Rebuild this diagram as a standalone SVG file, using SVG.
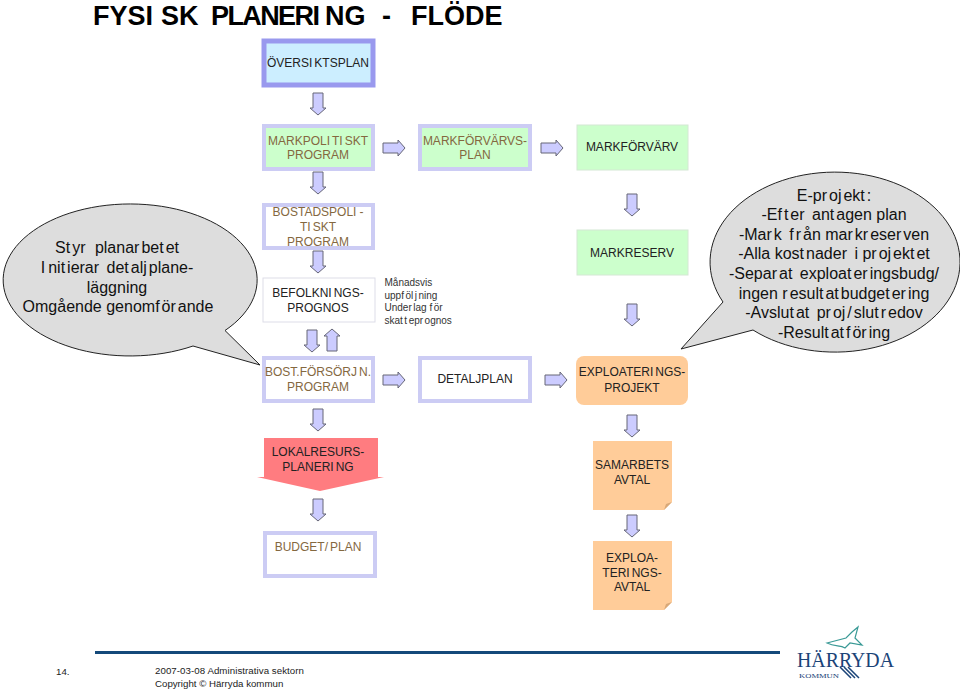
<svg xmlns="http://www.w3.org/2000/svg" width="960" height="689" viewBox="0 0 960 689">
<style>
text{font-family:"Liberation Sans",Arial,sans-serif}
.t{font-size:12px;text-anchor:middle;fill:#222}
.b{font-size:12px;text-anchor:middle;fill:#84683f}
.c{font-size:16px;text-anchor:middle;fill:#111}
.s{font-size:10px;fill:#333}
.f{font-size:9.7px;fill:#222}
.thick{fill:#fff;stroke:#ccccf4;stroke-width:4}
.green{fill:#ccffcc;stroke:#ccccf4;stroke-width:4}
.thin{fill:#ccffcc;stroke:#d4e8d4;stroke-width:1}
.note{fill:#ffcc99}
.fold{fill:#d8a878}
.bubble{fill:#dddddd;stroke:#222;stroke-width:1}
.arrow{fill:#ccccff;stroke:#666677;stroke-width:1}
</style>
<defs>
<path id="down" class="arrow" d="M-5 0H5V15H8L0 22L-8 15H-5Z"/>
<path id="right" class="arrow" d="M0 -5H15V-8L22 0L15 8V5H0Z"/>
<path id="up" class="arrow" d="M-5 22H5V7H8L0 0L-8 7H-5Z"/>
</defs>
<rect width="960" height="689" fill="#fff"/>
<text y="25" font-size="27" font-weight="700" fill="#000"><tspan x="93">FYSI</tspan><tspan x="161">SK</tspan> <tspan x="211" letter-spacing="-1.6">PLANERI</tspan><tspan x="325">NG</tspan> <tspan x="382">-</tspan> <tspan x="411">FLÖDE</tspan></text>

<g id="connectors">
<use href="#down" x="318" y="93"/>
<use href="#down" x="318" y="172"/>
<use href="#down" x="318" y="251"/>
<use href="#down" x="312" y="330"/>
<use href="#up" x="332" y="329"/>
<use href="#down" x="318" y="409"/>
<use href="#down" x="318" y="499"/>
<use href="#down" x="632" y="194"/>
<use href="#down" x="632" y="304"/>
<use href="#down" x="632" y="415"/>
<use href="#down" x="632" y="515"/>
<use href="#right" x="383" y="148"/>
<use href="#right" x="541" y="148"/>
<use href="#right" x="383" y="380"/>
<use href="#right" x="545" y="380"/>
</g>

<g id="oversiktsplan"><rect x="264" y="41" width="109" height="44" fill="#cceeff" stroke="#9999ee" stroke-width="5"/><text class="t" x="318" y="67">ÖVERSI<tspan dx="2">KTSPLAN</tspan></text></g>
<g id="markpolitiskt"><rect class="green" x="264" y="126" width="109" height="43"/><text class="b" x="318" y="145">MARKPOLI<tspan dx="2">TI</tspan><tspan dx="2">SKT</tspan></text><text class="b" x="318" y="159">PROGRAM</text></g>
<g id="markforvarvsplan"><rect class="green" x="420" y="126" width="110" height="43"/><text class="b" x="475" y="145">MARKFÖRVÄRVS-</text><text class="b" x="475" y="159">PLAN</text></g>
<g id="markforvarv"><rect class="thin" x="577" y="125" width="111" height="45"/><text class="t" x="632" y="151">MARKFÖRVÄRV</text></g>
<g id="bostadspolitiskt"><rect class="thick" x="264" y="205" width="109" height="43"/><text class="b" x="318" y="216">BOSTADSPOLI<tspan dx="3">-</tspan></text><text class="b" x="318" y="231">TI<tspan dx="2">SKT</tspan></text><text class="b" x="318" y="246">PROGRAM</text></g>
<g id="befolkningsprognos"><rect x="263" y="278" width="112" height="44" fill="#fff" stroke="#dddde8"/><text class="t" x="318" y="297">BEFOLKNI<tspan dx="2">NGS-</tspan></text><text class="t" x="318" y="312">PROGNOS</text></g>
<g id="manadsvis"><text class="s" x="384.500" y="285.500">Månadsvis</text><text class="s" x="384.500" y="298.500">uppf<tspan dx="1.5">öl</tspan><tspan dx="1.5">j</tspan><tspan dx="1.5">ning</tspan></text><text class="s" x="384.500" y="311">Under<tspan dx="1.5">lag</tspan> f<tspan dx="1.5">ör</tspan></text><text class="s" x="384.500" y="323.500">skat<tspan dx="1.5">t</tspan><tspan dx="1.5">epr</tspan><tspan dx="1.5">ognos</tspan></text></g>
<g id="markreserv"><rect class="thin" x="577" y="230" width="111" height="45"/><text class="t" x="632" y="257">MARKRESERV</text></g>
<g id="bostforsorjn"><rect class="thick" x="264" y="358" width="109" height="43"/><text class="b" x="318" y="376">BOST.FÖRSÖRJ<tspan dx="2">N.</tspan></text><text class="b" x="318" y="391">PROGRAM</text></g>
<g id="detaljplan"><rect class="thick" x="420" y="358" width="110" height="43"/><text class="t" x="475" y="383">DETALJPLAN</text></g>
<g id="exploateringsprojekt"><rect x="576" y="356" width="112" height="49" rx="8" fill="#ffcc99"/><text class="t" x="632" y="376">EXPLOATERI<tspan dx="2">NGS-</tspan></text><text class="t" x="632" y="392">PROJEKT</text></g>
<g id="lokalresurs"><path d="M264 438H378V477L384 477L320 491L257 477L264 477Z" fill="#ff7c80"/><text class="t" x="318" y="456">LOKALRESURS-</text><text class="t" x="318" y="471">PLANERI<tspan dx="2">NG</tspan></text></g>
<g id="budgetplan"><rect class="thick" x="265" y="533" width="110" height="43"/><text class="b" x="318" y="551">BUDGET/<tspan dx="2">PLAN</tspan></text></g>
<g id="samarbetsavtal"><path class="note" d="M593 441H672V502L664 510H593Z"/><path class="fold" d="M664 510L666 504L672 502Z"/><text class="t" x="632" y="469">SAMARBETS</text><text class="t" x="632" y="484">AVTAL</text></g>
<g id="exploateringsavtal"><path class="note" d="M593 541H672V602L664 610H593Z"/><path class="fold" d="M664 610L666 604L672 602Z"/><text class="t" x="632" y="562">EXPLOA-</text><text class="t" x="632" y="577">TERI<tspan dx="2">NGS-</tspan></text><text class="t" x="632" y="591">AVTAL</text></g>

<g id="callout-left"><path class="bubble" d="M225 330.500A127 76 0 1 0 193 346L260 365Z"/>
<text class="c" x="117" y="253">St<tspan dx="2">yr</tspan><tspan dx="5"> planar</tspan><tspan dx="2">bet</tspan><tspan dx="2">et</tspan></text>
<text class="c" x="117" y="273">I<tspan dx="3">nit</tspan><tspan dx="2">ierar</tspan><tspan dx="3"> det</tspan><tspan dx="2">alj</tspan><tspan dx="2">plane-</tspan></text>
<text class="c" x="117" y="293">läggning</text>
<text class="c" x="118" y="312">Omgående genomf<tspan dx="2">ör</tspan><tspan dx="2">ande</tspan></text></g>

<g id="callout-right"><path class="bubble" d="M723 302A125 90 0 1 1 753 330L681 349Z"/>
<text class="c" x="834" y="201">E-pr<tspan dx="2">oj</tspan><tspan dx="2">ekt</tspan><tspan dx="2">:</tspan></text>
<text class="c" x="834" y="220">-Ef<tspan dx="2">t</tspan><tspan dx="2">er</tspan><tspan dx="3"> ant</tspan><tspan dx="2">agen plan</tspan></text>
<text class="c" x="834" y="240">-Mar<tspan dx="2">k</tspan><tspan dx="3"> f</tspan><tspan dx="2">r</tspan><tspan dx="2">ån mar</tspan><tspan dx="2">kr</tspan><tspan dx="2">eser</tspan><tspan dx="2">ven</tspan></text>
<text class="c" x="834" y="259">-Alla kost<tspan dx="2">nader</tspan><tspan dx="3"> i pr</tspan><tspan dx="2">oj</tspan><tspan dx="2">ekt</tspan><tspan dx="2">et</tspan></text>
<text class="c" x="834" y="279">-Separ<tspan dx="2">at</tspan><tspan dx="3"> exploat</tspan><tspan dx="2">er</tspan><tspan dx="2">ingsbudg/</tspan></text>
<text class="c" x="834" y="299">ingen r<tspan dx="2">esult</tspan><tspan dx="2">at</tspan><tspan dx="2">budget</tspan><tspan dx="2">er</tspan><tspan dx="2">ing</tspan></text>
<text class="c" x="834" y="318">-Avslut<tspan dx="2">at</tspan><tspan dx="3"> pr</tspan><tspan dx="2">oj</tspan><tspan dx="2">/</tspan><tspan dx="2">slut</tspan><tspan dx="2">r</tspan><tspan dx="2">edov</tspan></text>
<text class="c" x="834" y="338">-Result<tspan dx="2">at</tspan><tspan dx="2">f</tspan><tspan dx="2">ör</tspan><tspan dx="2">ing</tspan></text></g>

<g id="footer">
<rect x="95" y="651" width="685" height="3" fill="#14497a"/>
<text class="f" x="56" y="675">14.</text>
<text class="f" x="155" y="674" textLength="149">2007-03-08  Administrativa sektorn</text>
<text class="f" x="155" y="687">Copyright © Härryda kommun</text>
</g>
<g id="logo">
<path d="M827 643L846 638L852 632L858 627L855 638L862 645L850 643L845 648C840 645 835 647 827 643Z" fill="#fff" stroke="#3a9a96" stroke-width="1.2"/>
<text x="797" y="667" font-size="22" fill="#1b4478" textLength="97" lengthAdjust="spacingAndGlyphs" style="font-family:'Liberation Serif',serif">HÄRRYDA</text>
<path d="M840 667L851 678M844 667L855 678M848 667L859 678" fill="none" stroke="#1b4478" stroke-width="1.5"/>
<text x="799" y="678" font-size="7" fill="#1b4478" textLength="40" lengthAdjust="spacingAndGlyphs" style="font-family:'Liberation Serif',serif">KOMMUN</text>
</g>
</svg>
